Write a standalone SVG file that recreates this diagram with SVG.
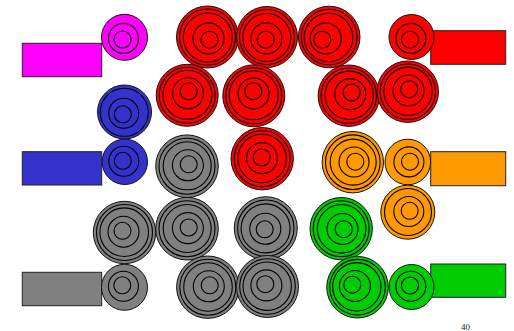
<svg xmlns="http://www.w3.org/2000/svg" width="514" height="331" viewBox="0 0 514 331">
<style>
.o{stroke:#111;stroke-width:1}
.r{fill:none;stroke:#000;stroke-width:1.1}
.mg{fill:#ff00ff}.rd{fill:#ff0000}.bl{fill:#3333cc}.gr{fill:#808080}.or{fill:#ff9900}.gn{fill:#00cc00}
.rect{stroke:#222;stroke-width:1}
.t{font-family:"Liberation Serif",serif;font-size:9px;fill:#222}
</style>
<rect width="514" height="331" fill="#fff"/>
<g id="rect-magenta"><rect class="rect mg" x="22.3" y="43.3" width="79.4" height="33.4"/></g>
<g id="rect-blue"><rect class="rect bl" x="22.3" y="151.7" width="79.4" height="33.3"/></g>
<g id="rect-gray"><rect class="rect gr" x="22.3" y="272.3" width="79.4" height="33.4"/></g>
<g id="rect-red"><rect class="rect rd" x="430.7" y="30.7" width="75" height="33.6"/></g>
<g id="rect-orange"><rect class="rect or" x="430.7" y="151.7" width="75" height="34"/></g>
<g id="rect-green"><rect class="rect gn" x="430.7" y="264" width="75" height="33.3"/></g>

<g id="magenta"><circle class="o mg" cx="124.5" cy="37.3" r="23"/><circle class="r" cx="123.5" cy="38.4" r="15"/><circle class="r" cx="122.5" cy="39.5" r="8.5"/></g>
<g id="redA"><circle class="o rd" cx="207.5" cy="37" r="31"/><circle class="r" cx="207.5" cy="37" r="28"/><circle class="r" cx="207.8" cy="37.5" r="24.5"/><circle class="r" cx="208.5" cy="38.4" r="15.5"/><circle class="r" cx="209.5" cy="39.7" r="8.5"/></g>
<g id="redB"><circle class="o rd" cx="267" cy="37" r="30.5"/><circle class="r" cx="267" cy="37" r="27.5"/><circle class="r" cx="266.8" cy="37.5" r="24"/><circle class="r" cx="266.4" cy="38.4" r="15.5"/><circle class="r" cx="265.7" cy="39.7" r="8.5"/></g>
<g id="redC"><circle class="o rd" cx="329.2" cy="37" r="30.8"/><circle class="r" cx="329.2" cy="37" r="27.8"/><circle class="r" cx="328.5" cy="37.5" r="24.3"/><circle class="r" cx="325.8" cy="38.4" r="15.5"/><circle class="r" cx="322.3" cy="39.7" r="8.5"/></g>
<g id="redSmall"><circle class="o rd" cx="411.5" cy="37" r="22.5"/><circle class="r" cx="410.8" cy="38.4" r="15"/><circle class="r" cx="410" cy="39.7" r="8.5"/></g>

<g id="blue1"><circle class="o bl" cx="124.5" cy="112" r="27"/><circle class="r" cx="124.3" cy="112.3" r="24"/><circle class="r" cx="123.7" cy="113.2" r="15"/><circle class="r" cx="122.8" cy="114.3" r="8.5"/></g>
<g id="redD"><circle class="o rd" cx="187.2" cy="95.3" r="31"/><circle class="r" cx="187.2" cy="95.3" r="28"/><circle class="r" cx="187.4" cy="94.8" r="24.5"/><circle class="r" cx="188" cy="93.3" r="15.5"/><circle class="r" cx="188.7" cy="91.3" r="8.5"/></g>
<g id="redE"><circle class="o rd" cx="253.8" cy="95.8" r="31"/><circle class="r" cx="253.8" cy="95.8" r="28"/><circle class="r" cx="253.7" cy="95.2" r="24.5"/><circle class="r" cx="253.6" cy="93.5" r="15.5"/><circle class="r" cx="253.3" cy="91.2" r="8.5"/></g>
<g id="redF"><circle class="o rd" cx="348.8" cy="95.7" r="30.7"/><circle class="r" cx="348.8" cy="95.7" r="27.7"/><circle class="r" cx="349.2" cy="95.3" r="24.2"/><circle class="r" cx="350.3" cy="94.1" r="15.5"/><circle class="r" cx="351.7" cy="92.5" r="8.5"/></g>
<g id="redG"><circle class="o rd" cx="407.8" cy="91.7" r="30.7"/><circle class="r" cx="407.8" cy="91.7" r="27.7"/><circle class="r" cx="408" cy="91.3" r="24.2"/><circle class="r" cx="408.5" cy="90.5" r="15.5"/><circle class="r" cx="409.2" cy="89.2" r="8.5"/></g>

<g id="blue2"><circle class="o bl" cx="124.8" cy="161.8" r="22.7"/><circle class="r" cx="123.8" cy="161.3" r="15"/><circle class="r" cx="122.8" cy="160.8" r="8.5"/></g>
<g id="grayM1"><circle class="o gr" cx="187" cy="166.2" r="31.3"/><circle class="r" cx="187" cy="166.2" r="28"/><circle class="r" cx="187.2" cy="165.8" r="24"/><circle class="r" cx="187.9" cy="165.3" r="15.5"/><circle class="r" cx="188.7" cy="164.3" r="8.5"/></g>
<g id="redH"><circle class="o rd" cx="262.2" cy="158.7" r="31.2"/><circle class="r" cx="262.2" cy="158.7" r="28"/><circle class="r" cx="262.1" cy="158.5" r="24.3"/><circle class="r" cx="262" cy="158.1" r="15.5"/><circle class="r" cx="261.7" cy="157.5" r="8.5"/></g>
<g id="orangeBig"><circle class="o or" cx="352.8" cy="162.2" r="30.7"/><circle class="r" cx="352.8" cy="162.2" r="27.3"/><circle class="r" cx="353.2" cy="162.1" r="23"/><circle class="r" cx="354" cy="162" r="15"/><circle class="r" cx="355.3" cy="161.7" r="8.5"/></g>
<g id="orangeSmall"><circle class="o or" cx="407.8" cy="162" r="22.8"/><circle class="r" cx="408.9" cy="161.9" r="15"/><circle class="r" cx="410" cy="161.7" r="8.5"/></g>

<g id="grayL"><circle class="o gr" cx="124.5" cy="232.5" r="31.2"/><circle class="r" cx="124.5" cy="232.5" r="28"/><circle class="r" cx="124.2" cy="232.2" r="24.3"/><circle class="r" cx="123.5" cy="231.7" r="15.5"/><circle class="r" cx="122.5" cy="230.8" r="8.5"/></g>
<g id="grayM2"><circle class="o gr" cx="187" cy="228.7" r="31.3"/><circle class="r" cx="187" cy="228.7" r="28"/><circle class="r" cx="187.2" cy="228.5" r="24"/><circle class="r" cx="187.9" cy="228.1" r="15.5"/><circle class="r" cx="188.7" cy="227.5" r="8.5"/></g>
<g id="grayR"><circle class="o gr" cx="265.8" cy="228.2" r="31.5"/><circle class="r" cx="265.8" cy="228.2" r="28.2"/><circle class="r" cx="265.6" cy="228.4" r="24.5"/><circle class="r" cx="265.3" cy="228.8" r="15.5"/><circle class="r" cx="264.7" cy="229.3" r="8.5"/></g>
<g id="greenBig"><circle class="o gn" cx="341.2" cy="228.7" r="31.2"/><circle class="r" cx="341.2" cy="228.7" r="28"/><circle class="r" cx="341.6" cy="228.8" r="24.3"/><circle class="r" cx="342.5" cy="229" r="15.5"/><circle class="r" cx="343.7" cy="229.2" r="8.5"/></g>
<g id="orangeLow"><circle class="o or" cx="407.8" cy="212.2" r="27"/><circle class="r" cx="408" cy="212" r="23.5"/><circle class="r" cx="408.8" cy="211.5" r="15"/><circle class="r" cx="409.7" cy="210.8" r="8.5"/></g>

<g id="graySmall"><circle class="o gr" cx="124.5" cy="287.3" r="23"/><circle class="r" cx="123.4" cy="286.3" r="15"/><circle class="r" cx="122.3" cy="285.3" r="8.5"/></g>
<g id="grayB1"><circle class="o gr" cx="207.8" cy="287.2" r="31.2"/><circle class="r" cx="207.8" cy="287.2" r="28"/><circle class="r" cx="208" cy="287" r="24.3"/><circle class="r" cx="208.8" cy="286.3" r="15.5"/><circle class="r" cx="209.7" cy="285.3" r="8.5"/></g>
<g id="grayB2"><circle class="o gr" cx="267.5" cy="286.5" r="31"/><circle class="r" cx="267.5" cy="286.5" r="27.8"/><circle class="r" cx="267.2" cy="286.2" r="24.2"/><circle class="r" cx="266.4" cy="285.4" r="15.5"/><circle class="r" cx="265.3" cy="284.2" r="8.5"/></g>
<g id="greenBig2"><circle class="o gn" cx="357.5" cy="287.2" r="30.8"/><circle class="r" cx="357.5" cy="287.2" r="27.8"/><circle class="r" cx="356.8" cy="286.8" r="24.2"/><circle class="r" cx="354.9" cy="286" r="15.5"/><circle class="r" cx="352.3" cy="284.7" r="8.5"/></g>
<g id="greenSmall"><circle class="o gn" cx="411.5" cy="287" r="22.5"/><circle class="r" cx="410.8" cy="286.3" r="15"/><circle class="r" cx="410" cy="285.5" r="8.5"/></g>

<g id="connectors"/>
<text class="t" x="461" y="330">40</text>
</svg>
